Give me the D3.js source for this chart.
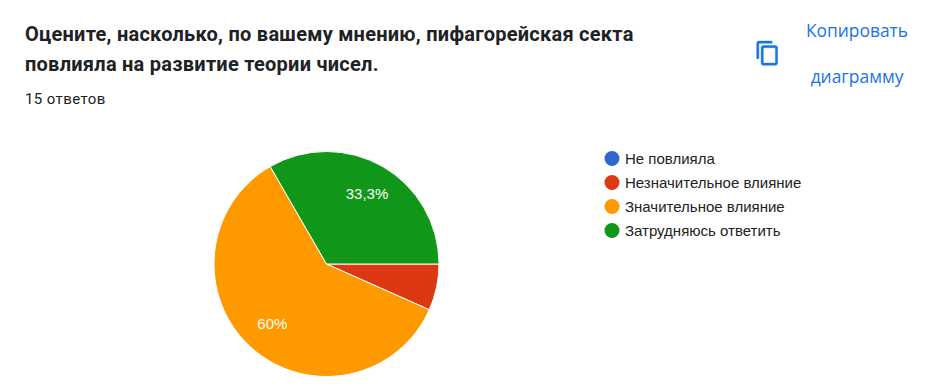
<!DOCTYPE html>
<html>
<head>
<meta charset="utf-8">
<script src="https://cdn.jsdelivr.net/npm/d3@7"></script>
<style>
    html, body { margin: 0; padding: 0; background: #fff; }
    svg { display: block; }
</style>
</head>
<body>
<div id="chart"></div>
<script>
const categories = ["Не повлияла", "Незначительное влияние", "Значительное влияние", "Затрудняюсь ответить"]
const answers = [0, 1, 9, 5]
const percentLabels = ["", "", "60%", "33,3%"]
const colors = ["#3366cc", "#dc3912", "#ff9900", "#109618"]
const titleLines = ["Оцените, насколько, по вашему мнению, пифагорейская секта", "повлияла на развитие теории чисел."]
const subtitle = "15 ответов"
const copyLines = ["Копировать", "диаграмму"]

const width = 925, height = 389

const svg = d3.select("#chart").append("svg")
    .attr("width", width)
    .attr("height", height)

// title block
svg.selectAll(".title").data(titleLines).enter().append("text")
    .attr("class", "title")
    .attr("x", 25)
    .attr("y", (d, i) => 41 + i * 30)
    .attr("font-family", "Roboto")
    .attr("font-weight", 700)
    .attr("font-size", 20)
    .attr("letter-spacing", 0.25)
    .attr("fill", "#202124")
    .text(d => d)

svg.append("text")
    .attr("x", 25)
    .attr("y", 104)
    .attr("font-family", "Roboto")
    .attr("font-size", 15)
    .attr("letter-spacing", 0.4)
    .attr("fill", "#202124")
    .text(subtitle)

// copy button
svg.append("path")
    .attr("transform", "translate(754.5,40) scale(1.1)")
    .attr("fill", "#1a73e8")
    .attr("stroke", "#1a73e8")
    .attr("stroke-width", 0.4)
    .attr("d", "M16 1H4c-1.1 0-2 .9-2 2v14h2V3h12V1zm3 4H8c-1.1 0-2 .9-2 2v14c0 1.1.9 2 2 2h11c1.1 0 2-.9 2-2V7c0-1.1-.9-2-2-2zm0 16H8V7h11v14z")

svg.selectAll(".copy").data(copyLines).enter().append("text")
    .attr("class", "copy")
    .attr("x", 857)
    .attr("y", (d, i) => 37 + i * 46)
    .attr("text-anchor", "middle")
    .attr("font-family", "Open Sans")
    .attr("font-size", 17.4)
    .attr("fill", "#1a73e8")
    .text(d => d)

// pie
const radius = 112.5
const pie = d3.pie().sort(null)
    .startAngle(Math.PI / 2)
    .endAngle(Math.PI / 2 + 2 * Math.PI)
const arc = d3.arc().innerRadius(0).outerRadius(radius)
const labelArc = d3.arc().innerRadius(radius * 0.72).outerRadius(radius * 0.72)

const pieG = svg.append("g")
    .attr("transform", "translate(326.5,264)")

const slices = pie(answers)

pieG.selectAll("path").data(slices).enter().append("path")
    .attr("d", arc)
    .attr("fill", (d, i) => colors[i])
    .attr("stroke", "#fff")
    .attr("stroke-width", 1)

pieG.selectAll("text").data(slices).enter().append("text")
    .attr("transform", d => `translate(${labelArc.centroid(d)})`)
    .attr("text-anchor", "middle")
    .attr("dy", "0.35em")
    .attr("font-family", "Liberation Sans")
    .attr("font-size", 15)
    .attr("fill", "#fff")
    .text((d, i) => percentLabels[i])

// legend
const legendY = d3.scalePoint().domain(categories).range([158.5, 230.5])

const legend = svg.selectAll(".legend").data(categories).enter().append("g")
    .attr("class", "legend")
    .attr("transform", d => `translate(612,${legendY(d)})`)

legend.append("circle")
    .attr("r", 7.5)
    .attr("fill", (d, i) => colors[i])

legend.append("text")
    .attr("x", 13)
    .attr("dy", "0.35em")
    .attr("font-family", "Liberation Sans")
    .attr("font-size", 15)
    .attr("fill", "#222")
    .text(d => d)
</script>
</body>
</html>
